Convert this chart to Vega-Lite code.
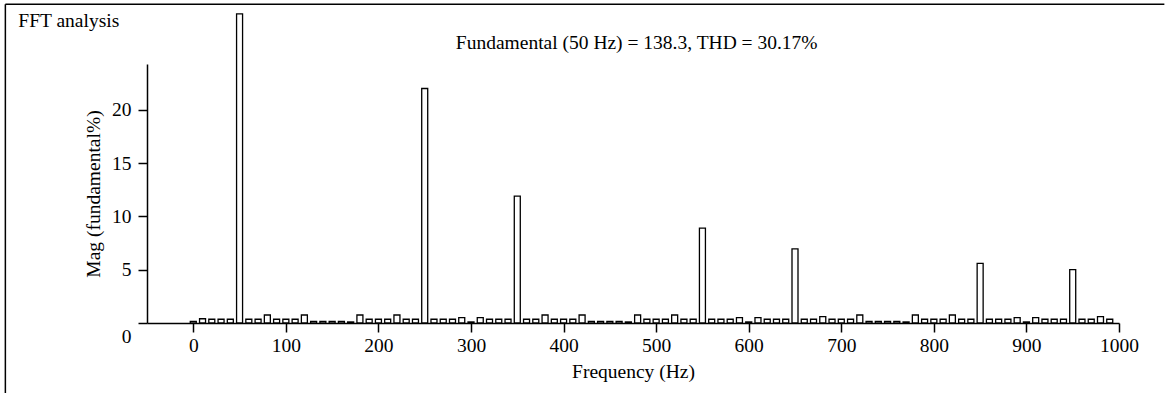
{
  "$schema": "https://vega.github.io/schema/vega-lite/v6.json",
  "autosize": "none",
  "width": 972,
  "height": 259,
  "padding": {"left": 147, "top": 64, "right": 50, "bottom": 70},
  "background": "white",
  "config": {
    "view": {"stroke": null},
    "axis": {
      "labelFont": "Liberation Serif",
      "titleFont": "Liberation Serif",
      "labelFontSize": 19.5,
      "titleFontSize": 19.5,
      "titleFontWeight": "normal",
      "labelColor": "black",
      "titleColor": "black",
      "domainColor": "black",
      "tickColor": "black",
      "domainWidth": 1.5,
      "tickWidth": 1.5,
      "tickSize": 9,
      "labelFlush": false,
      "grid": false
    }
  },
  "layer": [
    {
      "data": {
        "values": [
          {"freq": 0, "mag": 0.15}, {"freq": 10, "mag": 0.4}, {"freq": 20, "mag": 0.35}, {"freq": 30, "mag": 0.35}, {"freq": 40, "mag": 0.35},
          {"freq": 50, "mag": 29}, {"freq": 60, "mag": 0.35}, {"freq": 70, "mag": 0.35}, {"freq": 80, "mag": 0.75}, {"freq": 90, "mag": 0.35},
          {"freq": 100, "mag": 0.35}, {"freq": 110, "mag": 0.35}, {"freq": 120, "mag": 0.75}, {"freq": 130, "mag": 0.15}, {"freq": 140, "mag": 0.15},
          {"freq": 150, "mag": 0.15}, {"freq": 160, "mag": 0.15}, {"freq": 170, "mag": 0.1}, {"freq": 180, "mag": 0.75}, {"freq": 190, "mag": 0.35},
          {"freq": 200, "mag": 0.35}, {"freq": 210, "mag": 0.35}, {"freq": 220, "mag": 0.75}, {"freq": 230, "mag": 0.35}, {"freq": 240, "mag": 0.35},
          {"freq": 250, "mag": 22.0}, {"freq": 260, "mag": 0.35}, {"freq": 270, "mag": 0.35}, {"freq": 280, "mag": 0.35}, {"freq": 290, "mag": 0.5},
          {"freq": 300, "mag": 0.1}, {"freq": 310, "mag": 0.5}, {"freq": 320, "mag": 0.35}, {"freq": 330, "mag": 0.35}, {"freq": 340, "mag": 0.35},
          {"freq": 350, "mag": 11.9}, {"freq": 360, "mag": 0.35}, {"freq": 370, "mag": 0.35}, {"freq": 380, "mag": 0.75}, {"freq": 390, "mag": 0.35},
          {"freq": 400, "mag": 0.35}, {"freq": 410, "mag": 0.35}, {"freq": 420, "mag": 0.75}, {"freq": 430, "mag": 0.15}, {"freq": 440, "mag": 0.15},
          {"freq": 450, "mag": 0.15}, {"freq": 460, "mag": 0.15}, {"freq": 470, "mag": 0.1}, {"freq": 480, "mag": 0.75}, {"freq": 490, "mag": 0.35},
          {"freq": 500, "mag": 0.35}, {"freq": 510, "mag": 0.35}, {"freq": 520, "mag": 0.75}, {"freq": 530, "mag": 0.35}, {"freq": 540, "mag": 0.35},
          {"freq": 550, "mag": 8.9}, {"freq": 560, "mag": 0.35}, {"freq": 570, "mag": 0.35}, {"freq": 580, "mag": 0.35}, {"freq": 590, "mag": 0.5},
          {"freq": 600, "mag": 0.1}, {"freq": 610, "mag": 0.5}, {"freq": 620, "mag": 0.35}, {"freq": 630, "mag": 0.35}, {"freq": 640, "mag": 0.35},
          {"freq": 650, "mag": 6.95}, {"freq": 660, "mag": 0.35}, {"freq": 670, "mag": 0.35}, {"freq": 680, "mag": 0.6}, {"freq": 690, "mag": 0.35},
          {"freq": 700, "mag": 0.35}, {"freq": 710, "mag": 0.35}, {"freq": 720, "mag": 0.75}, {"freq": 730, "mag": 0.15}, {"freq": 740, "mag": 0.15},
          {"freq": 750, "mag": 0.15}, {"freq": 760, "mag": 0.15}, {"freq": 770, "mag": 0.1}, {"freq": 780, "mag": 0.75}, {"freq": 790, "mag": 0.35},
          {"freq": 800, "mag": 0.35}, {"freq": 810, "mag": 0.35}, {"freq": 820, "mag": 0.75}, {"freq": 830, "mag": 0.35}, {"freq": 840, "mag": 0.35},
          {"freq": 850, "mag": 5.6}, {"freq": 860, "mag": 0.35}, {"freq": 870, "mag": 0.35}, {"freq": 880, "mag": 0.35}, {"freq": 890, "mag": 0.5},
          {"freq": 900, "mag": 0.1}, {"freq": 910, "mag": 0.5}, {"freq": 920, "mag": 0.35}, {"freq": 930, "mag": 0.35}, {"freq": 940, "mag": 0.35},
          {"freq": 950, "mag": 5.0}, {"freq": 960, "mag": 0.35}, {"freq": 970, "mag": 0.35}, {"freq": 980, "mag": 0.6}, {"freq": 990, "mag": 0.35}
        ]
      },
      "mark": {"type": "bar", "fill": "white", "stroke": "black", "strokeWidth": 1.3, "size": 6},
      "encoding": {
        "x": {
          "field": "freq", "type": "quantitative",
          "scale": {"domain": [-50, 1000], "nice": false, "zero": false, "padding": 0},
          "axis": {"values": [0, 100, 200, 300, 400, 500, 600, 700, 800, 900, 1000], "format": "d", "title": "Frequency (Hz)", "labelPadding": 4, "titlePadding": 8}
        },
        "y": {
          "field": "mag", "type": "quantitative",
          "scale": {"domain": [0, 24.3], "nice": false, "padding": 0},
          "axis": {
            "values": [0, 5, 10, 15, 20],
            "title": "Mag (fundamental%)",
            "labelPadding": 7,
            "titlePadding": 8,
            "labelOffset": {"condition": {"test": "datum.value == 0", "value": 13}, "value": 0}
          }
        }
      }
    },
    {
      "data": {"values": [{"label": "FFT analysis"}]},
      "mark": {"type": "text", "align": "left", "baseline": "middle", "font": "Liberation Serif", "fontSize": 19.5, "fill": "black"},
      "encoding": {"text": {"field": "label"}, "x": {"datum": -189, "type": "quantitative"}, "y": {"datum": 28.3, "type": "quantitative"}}
    },
    {
      "data": {"values": [{"label": "Fundamental (50 Hz) = 138.3, THD = 30.17%"}]},
      "mark": {"type": "text", "align": "center", "baseline": "middle", "font": "Liberation Serif", "fontSize": 19.5, "fill": "black"},
      "encoding": {"text": {"field": "label"}, "x": {"datum": 479, "type": "quantitative"}, "y": {"datum": 26.3, "type": "quantitative"}}
    },
    {
      "data": {"values": [{}]},
      "mark": {"type": "rule", "color": "black", "strokeWidth": 1.5},
      "encoding": {"x": {"datum": -203, "type": "quantitative"}, "x2": {"datum": 1049}, "y": {"datum": 29.9, "type": "quantitative"}}
    },
    {
      "data": {"values": [{}]},
      "mark": {"type": "rule", "color": "black", "strokeWidth": 1.5},
      "encoding": {"x": {"datum": -203, "type": "quantitative"}, "y": {"datum": 29.9, "type": "quantitative"}, "y2": {"datum": -8}}
    }
  ]
}
